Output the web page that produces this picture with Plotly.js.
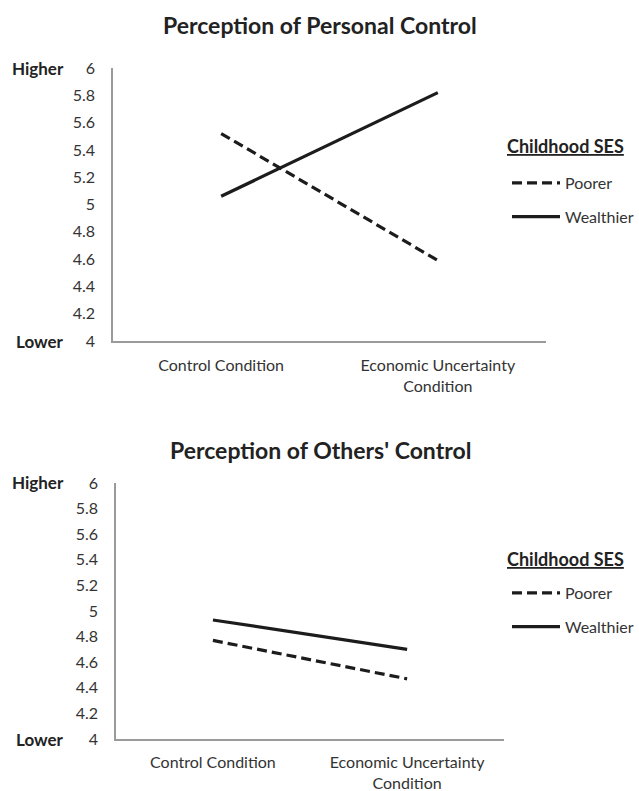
<!DOCTYPE html>
<html>
<head>
<meta charset="utf-8">
<script src="https://cdn.plot.ly/plotly-3.0.1.min.js"></script>
<style>html,body{margin:0;padding:0;background:#fff;}#chart{width:639px;height:791px;}</style>
</head>
<body>
<div id="chart"></div>
<script>
// ---- data ----
var categories = ['Control Condition', 'Economic Uncertainty Condition'];
var categoryLabels = ['Control Condition', 'Economic Uncertainty<br>Condition'];
var seriesNames = ['Poorer', 'Wealthier'];
var personalPoorer = [5.52, 4.59];
var personalWealthier = [5.06, 5.82];
var othersPoorer = [4.77, 4.47];
var othersWealthier = [4.93, 4.70];
var yTickVals = [4, 4.2, 4.4, 4.6, 4.8, 5, 5.2, 5.4, 5.6, 5.8, 6];
var yTickText = ['4', '4.2', '4.4', '4.6', '4.8', '5', '5.2', '5.4', '5.6', '5.8', '6'];
var chartTitles = ['Perception of Personal Control', "Perception of Others' Control"];
var legendTitle = 'Childhood SES';
var scaleLabels = ['Higher', 'Lower'];

// ---- layout helpers ----
var W = 639, H = 791;
function px(x) { return x / W; }
function py(y) { return 1 - y / H; }
var FONT = 'Lato, "Open Sans", sans-serif';
var lineColor = '#1c1c1c';

function trace(yvals, name, dash, xa, ya, leg) {
  return {
    x: categories, y: yvals, name: name, type: 'scatter', mode: 'lines',
    line: {color: lineColor, width: 3.2, dash: dash},
    xaxis: xa, yaxis: ya, legend: leg, showlegend: true,
    legendgroup: leg + name, hoverinfo: 'skip'
  };
}

var data = [
  trace(personalPoorer, seriesNames[0], '10px,5px', 'x', 'y', 'legend'),
  trace(personalWealthier, seriesNames[1], 'solid', 'x', 'y', 'legend'),
  trace(othersPoorer, seriesNames[0], '10px,5px', 'x2', 'y2', 'legend2'),
  trace(othersWealthier, seriesNames[1], 'solid', 'x2', 'y2', 'legend2')
];

function xAxis(domain, anchor, standoff) {
  return {
    domain: domain, anchor: anchor, type: 'category', range: [-0.5, 1.5],
    showline: true, linecolor: '#9a9a9a', linewidth: 1.6, showgrid: false, zeroline: false,
    ticks: '', tickvals: categories, ticktext: categoryLabels, ticklabelstandoff: standoff,
    tickfont: {family: FONT, size: 16, color: '#333'}, fixedrange: true
  };
}
function yAxis(domain, anchor) {
  return {
    domain: domain, anchor: anchor, range: [4, 6],
    showline: true, linecolor: '#9a9a9a', linewidth: 1.6, showgrid: false, zeroline: false,
    ticks: '', tickvals: yTickVals, ticktext: yTickText, ticklabelstandoff: 13,
    tickfont: {family: FONT, size: 16, color: '#333'}, fixedrange: true
  };
}

function legendBox(topPx) {
  return {
    x: px(508), xanchor: 'left', y: py(topPx), yanchor: 'top',
    bgcolor: 'rgba(0,0,0,0)', borderwidth: 0, traceorder: 'grouped', tracegroupgap: 10,
    itemwidth: 48,
    font: {family: FONT, size: 16, color: '#333'}
  };
}

var ann = [];
function titleAnn(text, yPx) {
  ann.push({text: '<b>' + text + '</b>', xref: 'paper', yref: 'paper', x: px(321), y: py(yPx),
    xanchor: 'center', yanchor: 'middle', showarrow: false,
    font: {family: FONT, size: 23, color: '#222'}});
}
function sideAnn(text, yref, yval) {
  ann.push({text: '<b>' + text + '</b>', xref: 'paper', yref: yref, x: px(66), y: yval,
    xanchor: 'right', yanchor: 'middle', showarrow: false,
    font: {family: FONT, size: 17, color: '#222'}});
}
function legendTitleAnn(yPx) {
  ann.push({text: '<b><u>' + legendTitle + '</u></b>', xref: 'paper', yref: 'paper', x: px(506), y: py(yPx),
    xanchor: 'left', yanchor: 'middle', showarrow: false,
    font: {family: FONT, size: 18, color: '#222'}});
}
titleAnn(chartTitles[0], 25);
titleAnn(chartTitles[1], 450);
sideAnn(scaleLabels[0], 'y', 6); sideAnn(scaleLabels[1], 'y', 4);
sideAnn(scaleLabels[0], 'y2', 6); sideAnn(scaleLabels[1], 'y2', 4);
legendTitleAnn(146);
legendTitleAnn(559);

var layout = {
  width: W, height: H, margin: {l: 0, r: 0, t: 0, b: 0},
  paper_bgcolor: '#fff', plot_bgcolor: '#fff',
  font: {family: FONT, color: '#333'},
  xaxis: xAxis([px(113), px(547)], 'y', 9),
  yaxis: yAxis([py(341), py(68)], 'x'),
  xaxis2: xAxis([px(116), px(505)], 'y2', 8),
  yaxis2: yAxis([py(739), py(483)], 'x2'),
  legend: legendBox(166),
  legend2: legendBox(576),
  annotations: ann
};

Plotly.newPlot('chart', data, layout, {displayModeBar: false, staticPlot: true});
</script>
</body>
</html>
